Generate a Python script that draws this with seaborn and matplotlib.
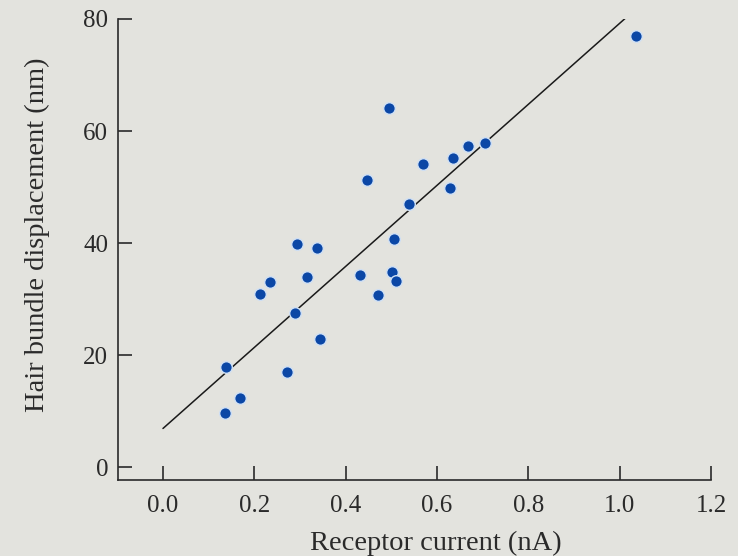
import matplotlib
matplotlib.use("Agg")
import matplotlib.pyplot as plt
import seaborn as sns
import pandas as pd

# receptor current (nA) vs hair bundle displacement (nm)
current = [0.136, 0.139, 0.169, 0.212, 0.234, 0.272, 0.289, 0.294, 0.316, 0.338,
           0.344, 0.431, 0.447, 0.470, 0.496, 0.501, 0.506, 0.510, 0.539, 0.570,
           0.629, 0.634, 0.667, 0.706, 1.036]
displacement = [9.7, 17.9, 12.3, 30.9, 33.0, 17.0, 27.6, 39.9, 33.9, 39.2,
                22.9, 34.3, 51.2, 30.7, 64.1, 34.8, 40.7, 33.3, 47.0, 54.2,
                49.9, 55.2, 57.4, 57.9, 77.0]

# fitted line end points
fit_x = [0.0, 1.012]
fit_y = [6.9, 80.1]

x_ticks = [0.0, 0.2, 0.4, 0.6, 0.8, 1.0, 1.2]
x_labels = ["0.0", "0.2", "0.4", "0.6", "0.8", "1.0", "1.2"]
y_ticks = [0, 20, 40, 60, 80]

bg = "#e3e3de"
sns.set_theme(style="ticks")
plt.rcParams["font.family"] = ["Liberation Serif", "DejaVu Serif"]

df = pd.DataFrame({"current": current, "displacement": displacement})

fig = plt.figure(figsize=(7.38, 5.56), dpi=100, facecolor=bg)
ax = fig.add_axes([118 / 738, 1 - 480 / 556, (711 - 118) / 738, (480 - 19) / 556])
ax.set_facecolor(bg)

sns.lineplot(x=fit_x, y=fit_y, ax=ax, color="#1a1a1a", linewidth=1.1)
sns.scatterplot(data=df, x="current", y="displacement", ax=ax, s=70,
                color="#0b47a6", edgecolor="#cfe0f5", linewidth=1.0, zorder=3,
                clip_on=False)

ax.set_xlim(-0.0985, 1.2)
ax.set_ylim(-2.3, 80)
ax.set_xticks(x_ticks)
ax.set_xticklabels(x_labels)
ax.set_yticks(y_ticks)
for side in ["top", "right"]:
    ax.spines[side].set_visible(False)
for side in ["left", "bottom"]:
    ax.spines[side].set_color("#2a2a2a")
    ax.spines[side].set_linewidth(1.2)
ax.tick_params(direction="in", length=10, width=1.2, color="#2a2a2a",
               labelsize=18, labelcolor="#2a2a2a")
ax.tick_params(axis="x", pad=11)
ax.tick_params(axis="y", pad=7)

ax.set_xlabel("Receptor current (nA)", fontsize=20.5, color="#2a2a2a", labelpad=10)
ax.set_ylabel("Hair bundle displacement (nm)", fontsize=20.5, color="#2a2a2a", labelpad=24)
ax.xaxis.label.set_x(0.536)
ax.yaxis.label.set_y(0.531)

fig.savefig("out.png", dpi=100, facecolor=bg)
